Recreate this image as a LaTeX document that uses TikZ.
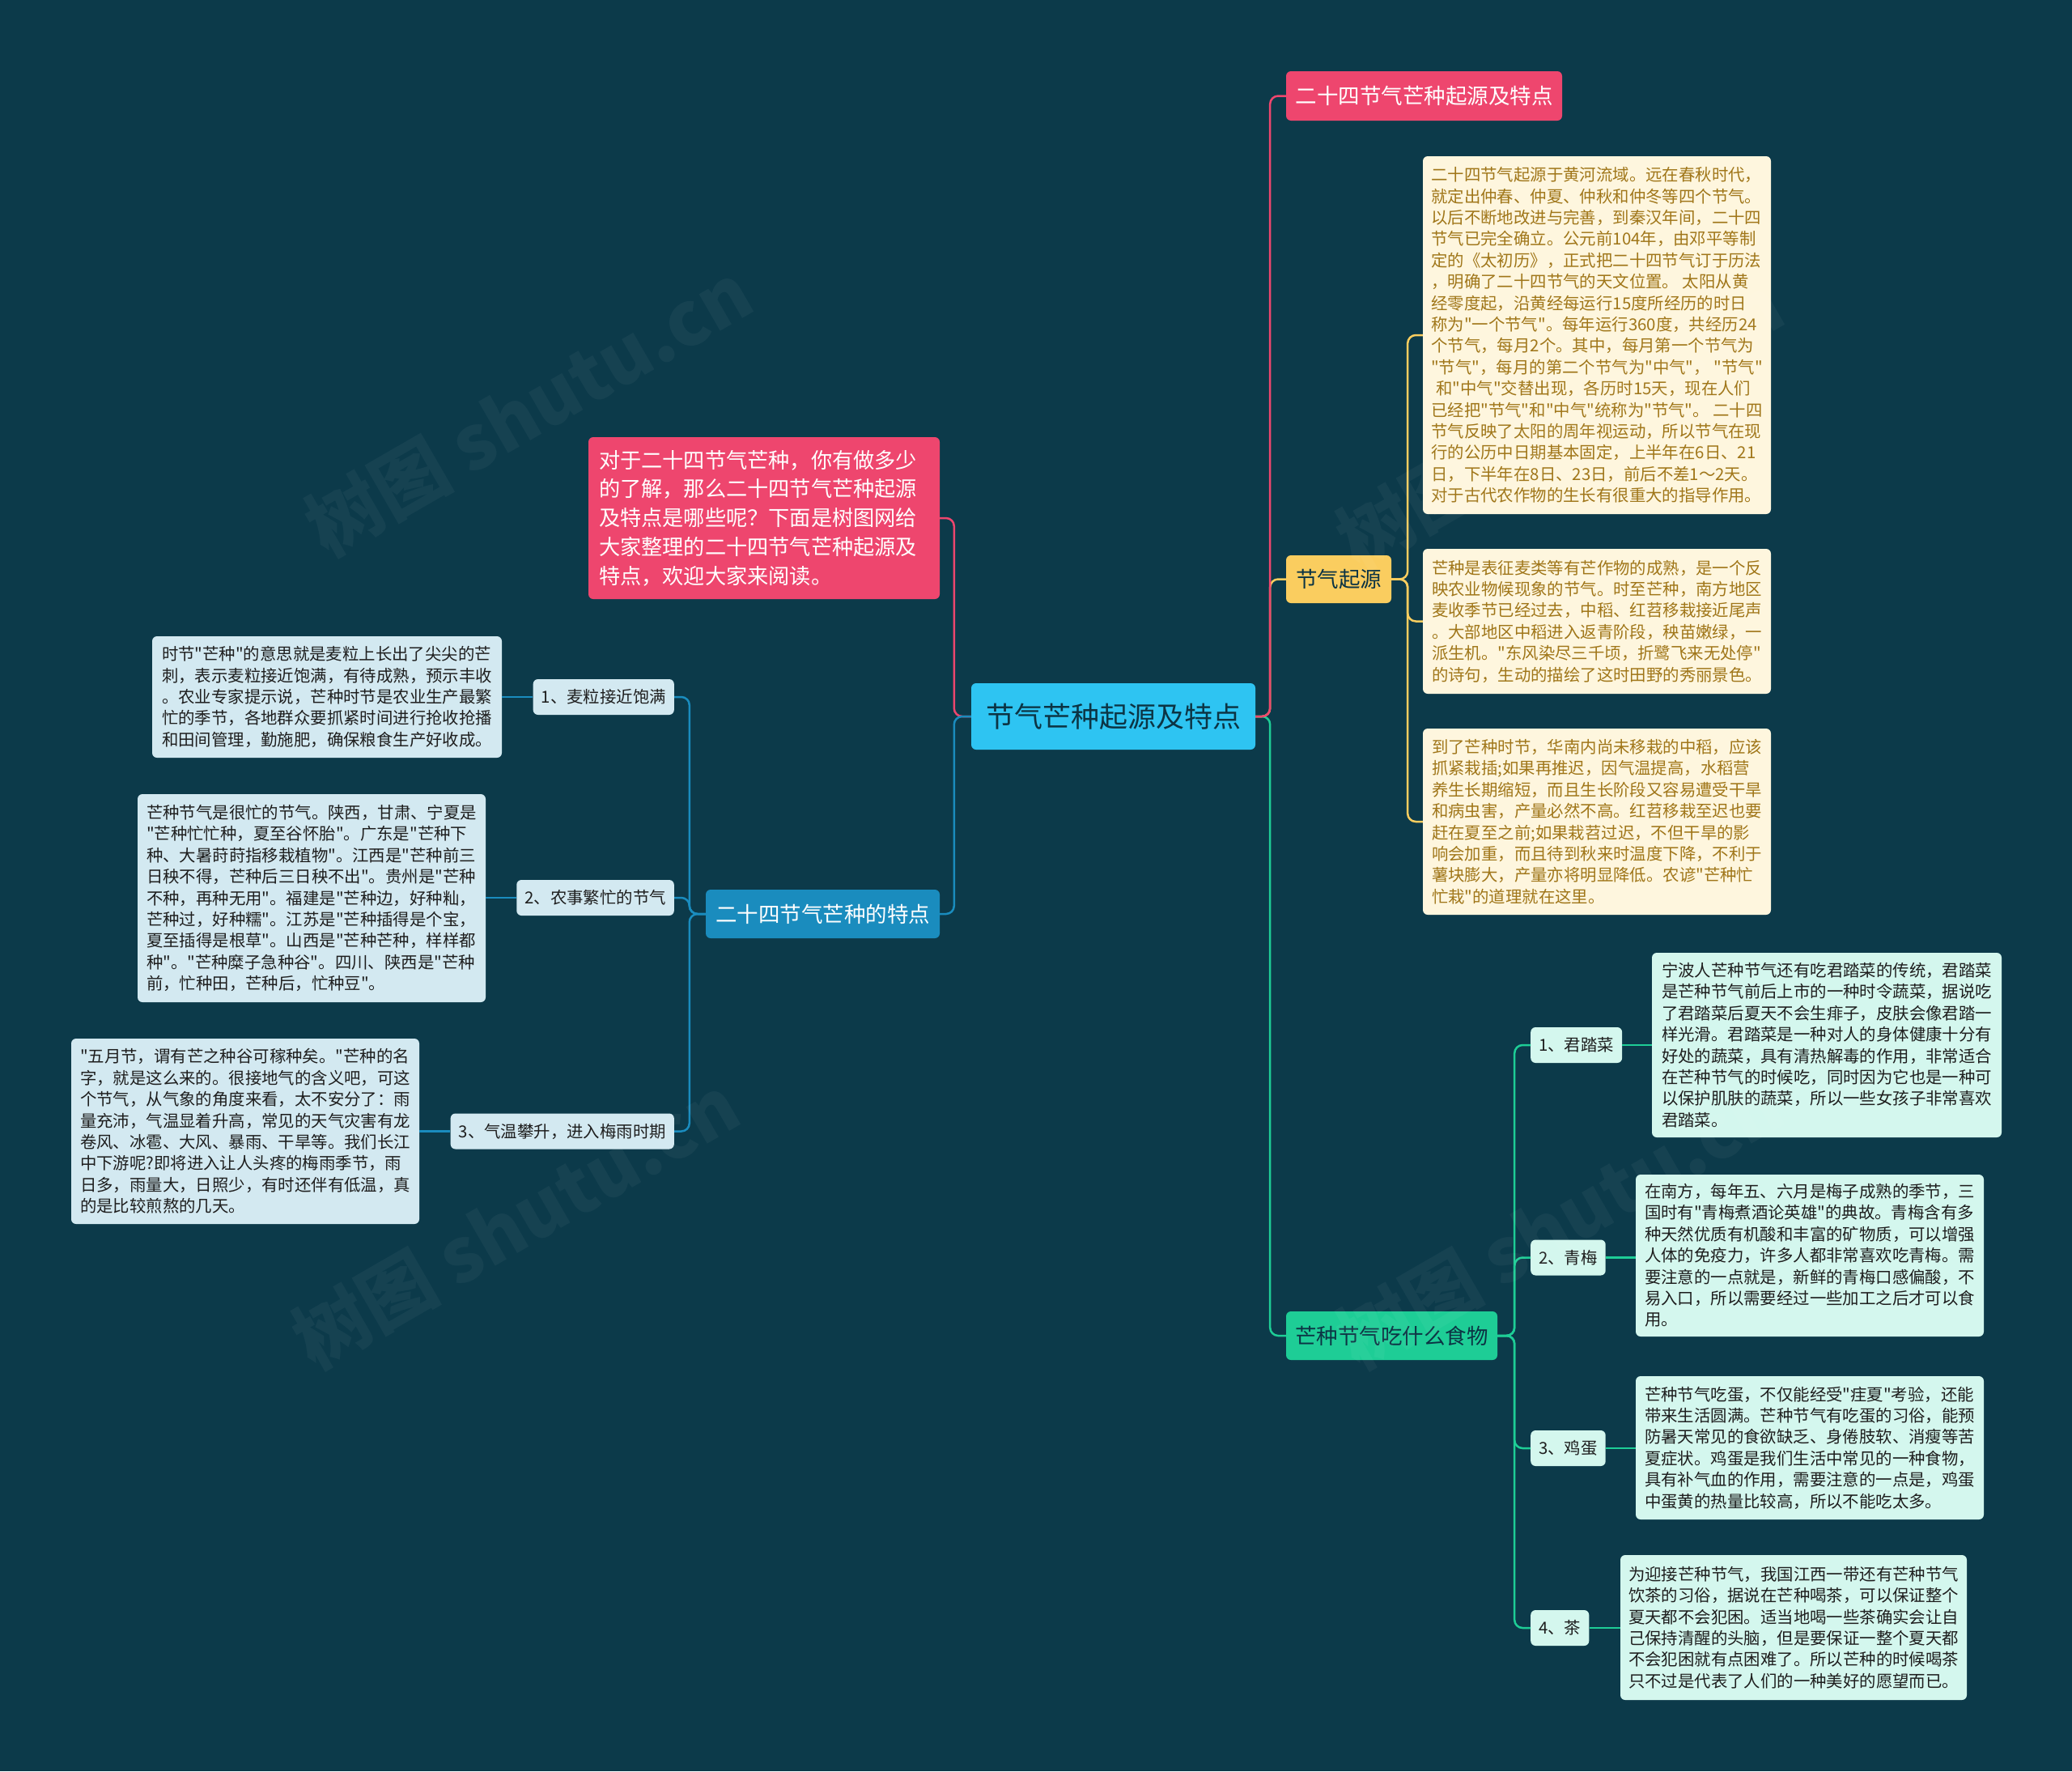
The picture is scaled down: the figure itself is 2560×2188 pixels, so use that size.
\documentclass[tikz,border=0pt]{standalone}
\usepackage{fontspec}
\newfontfamily\cjk{Noto Sans CJK SC}
\definecolor{bg}{RGB}{12,58,74}
\definecolor{cred}{RGB}{238,70,110}
\definecolor{ccenter}{RGB}{46,196,242}
\definecolor{cblue}{RGB}{26,140,190}
\definecolor{cyel}{RGB}{250,205,95}
\definecolor{cgreen}{RGB}{30,205,150}
\definecolor{ybox}{RGB}{254,246,222}
\definecolor{ytx}{RGB}{160,118,25}
\definecolor{bbox}{RGB}{211,233,241}
\definecolor{gbox}{RGB}{212,247,238}
\definecolor{dtx}{RGB}{30,30,30}
\definecolor{navy}{RGB}{12,52,68}
\tikzset{
  conn/.style={line width=2.5pt, rounded corners=10pt},
  mainbox/.style={rounded corners=6pt, inner sep=0pt, font=\cjk\fontsize{26.5}{30}\selectfont},
  smalltext/.style={rounded corners=6pt, inner xsep=9pt, inner ysep=0pt, align=left, font=\cjk\fontsize{20.4}{26.4}\selectfont},
  ytext/.style={smalltext, fill=ybox, text=ytx},
  btext/.style={smalltext, fill=bbox, text=dtx},
  gtext/.style={smalltext, fill=gbox, text=dtx},
  lab/.style={rounded corners=6pt, inner xsep=10pt, inner ysep=0pt, minimum height=44pt, font=\cjk\fontsize{20.4}{24}\selectfont, text=dtx},
  wmark/.style={rotate=30, text=white, opacity=0.045, font=\cjk\fontsize{92}{92}\selectfont\bfseries}
}
\begin{document}
\begin{tikzpicture}[x=1pt,y=-1pt]
\fill[bg] (0,0) rectangle (2560,2188);
\useasboundingbox (0,0) rectangle (2560,2188);

% central
\node[mainbox, fill=ccenter, text=navy, minimum width=351pt, minimum height=82pt, font=\cjk\fontsize{35}{40}\selectfont] (c) at (1375.5,885) {节气芒种起源及特点};

% right main branches
\node[mainbox, fill=cred, text=white, minimum width=341pt, minimum height=61pt] (top) at (1759.5,118.5) {二十四节气芒种起源及特点};
\node[mainbox, fill=cyel, text=navy, minimum width=130pt, minimum height=59pt] (jq) at (1654,715.5) {节气起源};
\node[mainbox, fill=cgreen, text=navy, minimum width=261pt, minimum height=60pt] (gm) at (1719.5,1650) {芒种节气吃什么食物};

% left main branches
\node[mainbox, fill=cred, text=white, align=left, text width=408pt, inner xsep=13pt, minimum height=200pt, font=\cjk\fontsize{26.2}{35.7}\selectfont] (intro) at (944,640) {对于二十四节气芒种，你有做多少\\的了解，那么二十四节气芒种起源\\及特点是哪些呢？下面是树图网给\\大家整理的二十四节气芒种起源及\\特点，欢迎大家来阅读。};
\node[mainbox, fill=cblue, text=white, minimum width=289pt, minimum height=60pt] (td) at (1016.5,1129) {二十四节气芒种的特点};

% yellow text boxes
\node[ytext, minimum width=430pt, minimum height=442pt] (ya) at (1973,414) {二十四节气起源于黄河流域。远在春秋时代，\\就定出仲春、仲夏、仲秋和仲冬等四个节气。\\以后不断地改进与完善，到秦汉年间，二十四\\节气已完全确立。公元前104年，由邓平等制\\定的《太初历》，正式把二十四节气订于历法\\，明确了二十四节气的天文位置。 太阳从黄\\经零度起，沿黄经每运行15度所经历的时日\\称为"一个节气"。每年运行360度，共经历24\\个节气，每月2个。其中，每月第一个节气为\\"节气"，每月的第二个节气为"中气"， "节气"\\\hspace*{0.3em}和"中气"交替出现，各历时15天，现在人们\\已经把"节气"和"中气"统称为"节气"。 二十四\\节气反映了太阳的周年视运动，所以节气在现\\行的公历中日期基本固定，上半年在6日、21\\日，下半年在8日、23日，前后不差1～2天。\\对于古代农作物的生长有很重大的指导作用。};
\node[ytext, minimum width=430pt, minimum height=179pt] (yb) at (1973,767.5) {芒种是表征麦类等有芒作物的成熟，是一个反\\映农业物候现象的节气。时至芒种，南方地区\\麦收季节已经过去，中稻、红苕移栽接近尾声\\。大部地区中稻进入返青阶段，秧苗嫩绿，一\\派生机。"东风染尽三千顷，折鹭飞来无处停"\\的诗句，生动的描绘了这时田野的秀丽景色。};
\node[ytext, minimum width=430pt, minimum height=230pt] (yc) at (1973,1015) {到了芒种时节，华南内尚未移栽的中稻，应该\\抓紧栽插;如果再推迟，因气温提高，水稻营\\养生长期缩短，而且生长阶段又容易遭受干旱\\和病虫害，产量必然不高。红苕移栽至迟也要\\赶在夏至之前;如果栽苕过迟，不但干旱的影\\响会加重，而且待到秋来时温度下降，不利于\\薯块膨大，产量亦将明显降低。农谚"芒种忙\\忙栽"的道理就在这里。};

% left labels
\node[lab, fill=bbox, anchor=east] (l1) at (833,861) {1、麦粒接近饱满};
\node[lab, fill=bbox, anchor=east] (l2) at (833,1109) {2、农事繁忙的节气};
\node[lab, fill=bbox, anchor=east] (l3) at (833,1397.5) {3、气温攀升，进入梅雨时期};

% left text boxes
\node[btext, minimum width=432pt, minimum height=150pt] (t1) at (404,861) {时节"芒种"的意思就是麦粒上长出了尖尖的芒\\刺，表示麦粒接近饱满，有待成熟，预示丰收\\。农业专家提示说，芒种时节是农业生产最繁\\忙的季节，各地群众要抓紧时间进行抢收抢播\\和田间管理，勤施肥，确保粮食生产好收成。};
\node[btext, minimum width=430pt, minimum height=257pt] (t2) at (385,1109.5) {芒种节气是很忙的节气。陕西，甘肃、宁夏是\\"芒种忙忙种，夏至谷怀胎"。广东是"芒种下\\种、大暑莳莳指移栽植物"。江西是"芒种前三\\日秧不得，芒种后三日秧不出"。贵州是"芒种\\不种，再种无用"。福建是"芒种边，好种籼，\\芒种过，好种糯"。江苏是"芒种插得是个宝，\\夏至插得是根草"。山西是"芒种芒种，样样都\\种"。"芒种糜子急种谷"。四川、陕西是"芒种\\前，忙种田，芒种后，忙种豆"。};
\node[btext, minimum width=430pt, minimum height=229pt] (t3) at (303,1397.5) {"五月节，谓有芒之种谷可稼种矣。"芒种的名\\字，就是这么来的。很接地气的含义吧，可这\\个节气，从气象的角度来看，太不安分了：雨\\量充沛，气温显着升高，常见的天气灾害有龙\\卷风、冰雹、大风、暴雨、干旱等。我们长江\\中下游呢?即将进入让人头疼的梅雨季节，雨\\日多，雨量大，日照少，有时还伴有低温，真\\的是比较煎熬的几天。};

% green labels
\node[lab, fill=gbox, anchor=west] (g1) at (1891,1291) {1、君踏菜};
\node[lab, fill=gbox, anchor=west] (g2) at (1891,1553.5) {2、青梅};
\node[lab, fill=gbox, anchor=west] (g3) at (1891,1789) {3、鸡蛋};
\node[lab, fill=gbox, anchor=west] (g4) at (1891,2011) {4、茶};

% green text boxes
\node[gtext, minimum width=432pt, minimum height=228pt] (gt1) at (2257,1291) {宁波人芒种节气还有吃君踏菜的传统，君踏菜\\是芒种节气前后上市的一种时令蔬菜，据说吃\\了君踏菜后夏天不会生痱子，皮肤会像君踏一\\样光滑。君踏菜是一种对人的身体健康十分有\\好处的蔬菜，具有清热解毒的作用，非常适合\\在芒种节气的时候吃，同时因为它也是一种可\\以保护肌肤的蔬菜，所以一些女孩子非常喜欢\\君踏菜。};
\node[gtext, minimum width=430pt, minimum height=200pt] (gt2) at (2236,1551) {在南方，每年五、六月是梅子成熟的季节，三\\国时有"青梅煮酒论英雄"的典故。青梅含有多\\种天然优质有机酸和丰富的矿物质，可以增强\\人体的免疫力，许多人都非常喜欢吃青梅。需\\要注意的一点就是，新鲜的青梅口感偏酸，不\\易入口，所以需要经过一些加工之后才可以食\\用。};
\node[gtext, minimum width=430pt, minimum height=177pt] (gt3) at (2236,1788.5) {芒种节气吃蛋，不仅能经受"疰夏"考验，还能\\带来生活圆满。芒种节气有吃蛋的习俗，能预\\防暑天常见的食欲缺乏、身倦肢软、消瘦等苦\\夏症状。鸡蛋是我们生活中常见的一种食物，\\具有补气血的作用，需要注意的一点是，鸡蛋\\中蛋黄的热量比较高，所以不能吃太多。};
\node[gtext, minimum width=428pt, minimum height=179pt] (gt4) at (2216,2010.5) {为迎接芒种节气，我国江西一带还有芒种节气\\饮茶的习俗，据说在芒种喝茶，可以保证整个\\夏天都不会犯困。适当地喝一些茶确实会让自\\己保持清醒的头脑，但是要保证一整个夏天都\\不会犯困就有点困难了。所以芒种的时候喝茶\\只不过是代表了人们的一种美好的愿望而已。};

% connectors
\draw[conn, cgreen] (c.east) -- ++(18,0) |- (gm.west);
\draw[conn, cyel] (c.east) -- ++(18,0) |- (jq.west);
\draw[conn, cred] (c.east) -- ++(18,0) |- (top.west);
\draw[conn, cred] (c.west) -- ++(-21,0) |- (intro.east);
\draw[conn, cblue] (c.west) -- ++(-21,0) |- (td.east);
\draw[conn, cyel] (jq.east) -- ++(20,0) |- (ya.west);
\draw[conn, cyel] (jq.east) -- ++(20,0) |- (yb.west);
\draw[conn, cyel] (jq.east) -- ++(20,0) |- (yc.west);
\draw[conn, cblue] (td.west) -- ++(-20,0) |- (l1.east);
\draw[conn, cblue] (td.west) -- ++(-20,0) |- (l2.east);
\draw[conn, cblue] (td.west) -- ++(-20,0) |- (l3.east);
\draw[conn, cblue] (l1.west) -- (t1.east);
\draw[conn, cblue] (l2.west) -- (l2.west -| t2.east);
\draw[conn, cblue] (l3.west) -- (t3.east);
\draw[conn, cgreen] (gm.east) -- ++(21,0) |- (g1.west);
\draw[conn, cgreen] (gm.east) -- ++(21,0) |- (g2.west);
\draw[conn, cgreen] (gm.east) -- ++(21,0) |- (g3.west);
\draw[conn, cgreen] (gm.east) -- ++(21,0) |- (g4.west);
\draw[conn, cgreen] (g1.east) -- (gt1.west);
\draw[conn, cgreen] (g2.east) -- (g2.east -| gt2.west);
\draw[conn, cgreen] (g3.east) -- (g3.east -| gt3.west);
\draw[conn, cgreen] (g4.east) -- (g4.east -| gt4.west);

% watermarks
\node[wmark] (wm1) at (653,506) {树图 shutu.cn};
\node[wmark] (wm2) at (1927,522) {树图 shutu.cn};
\node[wmark] (wm3) at (637,1510) {树图 shutu.cn};
\node[wmark] (wm4) at (1927,1510) {树图 shutu.cn};
\end{tikzpicture}
\end{document}
